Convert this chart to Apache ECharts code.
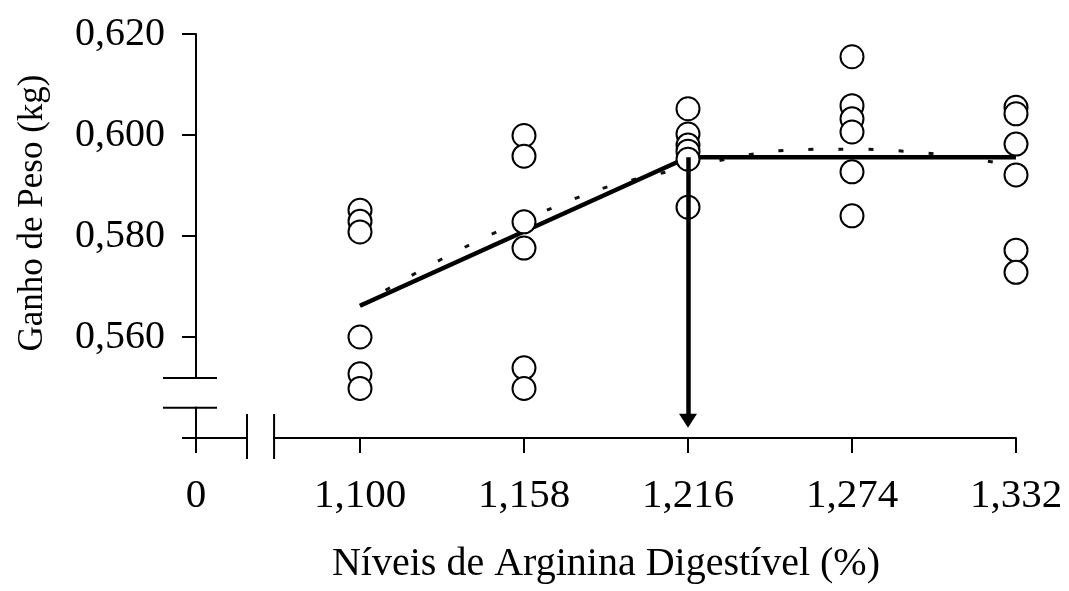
<!DOCTYPE html>
<html>
<head>
<meta charset="utf-8">
<script src="https://cdn.jsdelivr.net/npm/echarts@6/dist/echarts.min.js"></script>
<style>
html,body{margin:0;padding:0;background:#fff;}
#chart{width:1069px;height:591px;}
</style>
</head>
<body>
<div id="chart"></div>
<script>
// ---- data ----
const xTickLabels = ['0', '1,100', '1,158', '1,216', '1,274', '1,332'];
const xPositions = [0, 1, 2, 3, 4, 5];
const obs1100 = [0.5851, 0.5829, 0.5808, 0.5600, 0.5527, 0.5498];
const obs1158 = [0.5999, 0.5958, 0.5828, 0.5776, 0.5539, 0.5498];
const obs1216 = [0.6052, 0.6002, 0.5980, 0.5968, 0.5952, 0.5857];
const obs1274 = [0.6155, 0.6058, 0.6032, 0.6006, 0.5927, 0.5840];
const obs1332 = [0.6055, 0.6042, 0.5982, 0.5921, 0.5772, 0.5728];
const brokenLineX = [1, 3, 5];
const brokenLineY = [0.5662, 0.5956, 0.5956];
const quadX = [1, 2, 3, 4, 5];
const quadY = [0.5662, 0.5832, 0.5936, 0.5972, 0.5938];
const arrowFrom = [3, 0.5956];
const arrowTo = [3, 0.5434];
const yBreak = [0.5460, 0.5519];   // y-axis break (value range)
const xBreak = [0.311, 0.476];     // x-axis break (position range)

const chart = echarts.init(document.getElementById('chart'));
const FONT = 'Liberation Serif';

const groups = [obs1100, obs1158, obs1216, obs1274, obs1332];
const scatterData = [];
groups.forEach((g, i) => g.forEach(v => scatterData.push([xPositions[i + 1], v])));

const option = {
  backgroundColor: '#fff',
  animation: false,
  grid: { left: 196, right: 53, top: 34, bottom: 153, containLabel: false },
  xAxis: {
    type: 'value', min: 0, max: 5, interval: 1,
    splitLine: { show: false },
    axisLine: { show: true, onZero: false, lineStyle: { color: '#000', width: 2 } },
    axisTick: { show: true, inside: false, length: 15, lineStyle: { color: '#000', width: 2 } },
    axisLabel: {
      color: '#000', fontFamily: FONT, fontSize: 41, margin: 38,
      formatter: v => xTickLabels[Math.round(v)]
    },
    name: 'Níveis de Arginina Digestível (%)',
    nameLocation: 'middle', nameGap: 106,
    nameTextStyle: { color: '#000', fontFamily: FONT, fontSize: 40 }
  },
  yAxis: {
    type: 'value', min: 0.54, max: 0.62, interval: 0.02,
    splitLine: { show: false },
    axisLine: { show: true, onZero: false, lineStyle: { color: '#000', width: 2 } },
    axisTick: { show: true, inside: false, length: 14, lineStyle: { color: '#000', width: 2 } },
    axisLabel: {
      color: '#000', fontFamily: FONT, fontSize: 40, margin: 31,
      formatter: v => (Math.abs(v - 0.54) < 1e-6 ? '' : v.toFixed(3).replace('.', ','))
    }
  },
  series: [
    {
      type: 'line', z: 1, smooth: true, symbol: 'none',
      data: quadX.map((x, i) => [x, quadY[i]]),
      lineStyle: { color: '#111', width: 3, type: [5, 25] }
    },
    {
      type: 'line', z: 2, symbol: 'none',
      data: brokenLineX.map((x, i) => [x, brokenLineY[i]]),
      lineStyle: { color: '#000', width: 4.5 }
    },
    {
      type: 'scatter', z: 3, symbol: 'circle', symbolSize: 23,
      data: scatterData,
      itemStyle: { color: '#fff', borderColor: '#000', borderWidth: 2, opacity: 1 }
    },
    {
      type: 'line', z: 4, symbol: 'none', data: [],
      markLine: {
        silent: true, animation: false,
        symbol: ['none', 'triangle'], symbolSize: [18, 14],
        label: { show: false },
        lineStyle: { color: '#000', width: 4.5, type: 'solid' },
        data: [[{ coord: arrowFrom }, { coord: arrowTo }]]
      }
    }
  ]
};
chart.setOption(option);

function drawBreaks() {
  const ax = chart.convertToPixel({ gridIndex: 0 }, [0, 0.54]);
  const yb0 = chart.convertToPixel({ gridIndex: 0 }, [0, yBreak[0]])[1];
  const yb1 = chart.convertToPixel({ gridIndex: 0 }, [0, yBreak[1]])[1];
  const xb0 = chart.convertToPixel({ gridIndex: 0 }, [xBreak[0], 0.54])[0];
  const xb1 = chart.convertToPixel({ gridIndex: 0 }, [xBreak[1], 0.54])[0];
  const axX = ax[0], axY = ax[1];
  const ls = { stroke: '#000', lineWidth: 2 };
  chart.setOption({
    graphic: [
      { type: 'rect', z: 100, shape: { x: axX - 6, y: yb1 + 1, width: 12, height: yb0 - yb1 - 2 }, style: { fill: '#fff' } },
      { type: 'line', z: 101, shape: { x1: axX - 33, y1: yb1, x2: axX + 21, y2: yb1 }, style: ls },
      { type: 'line', z: 101, shape: { x1: axX - 33, y1: yb0, x2: axX + 21, y2: yb0 }, style: ls },
      { type: 'rect', z: 100, shape: { x: xb0 + 1, y: axY - 6, width: xb1 - xb0 - 2, height: 12 }, style: { fill: '#fff' } },
      { type: 'line', z: 101, shape: { x1: xb0, y1: axY - 24, x2: xb0, y2: axY + 21 }, style: ls },
      { type: 'line', z: 101, shape: { x1: xb1, y1: axY - 24, x2: xb1, y2: axY + 21 }, style: ls },
      {
        type: 'text', z: 101, x: 33, y: 213, rotation: Math.PI / 2,
        style: { text: 'Ganho de Peso (kg)', fill: '#000', font: '35px "Liberation Serif"', align: 'center', verticalAlign: 'middle' }
      }
    ]
  });
}
drawBreaks();
</script>
</body>
</html>
